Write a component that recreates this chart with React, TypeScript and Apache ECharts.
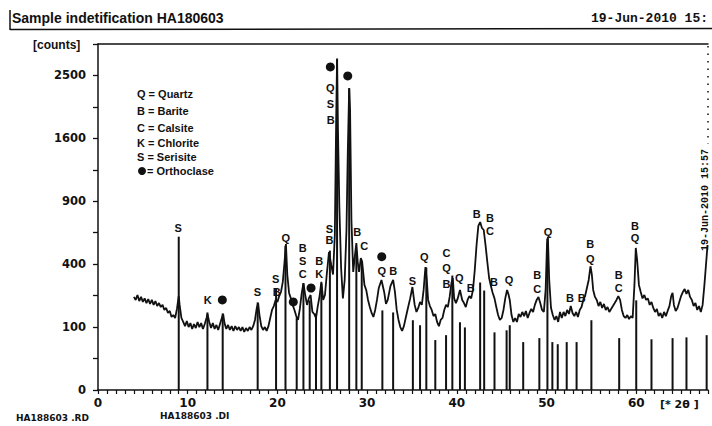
import React, { useEffect, useRef } from 'react';
import * as echarts from 'echarts';

// measured pattern: [2theta, counts]
const patternData: [number, number][] = [
  [4.0, 219], [4.2, 205], [4.4, 228], [4.6, 200], [4.8, 219], [5.0, 196], [5.2, 212], [5.4, 191], [5.6, 209], [5.8, 187],
  [6.0, 205], [6.2, 183], [6.4, 200], [6.6, 178], [6.8, 191], [7.0, 174], [7.2, 183], [7.4, 162], [7.6, 170], [7.8, 150],
  [8.0, 158], [8.2, 135], [8.4, 142], [8.6, 131], [8.8, 166], [9.0, 223], [9.1, 183], [9.3, 131], [9.5, 117], [9.7, 103],
  [9.9, 120], [10.1, 100], [10.3, 113], [10.5, 94], [10.7, 110], [10.9, 97], [11.1, 117], [11.3, 100], [11.5, 113], [11.7, 94],
  [11.9, 110], [12.1, 131], [12.2, 146], [12.4, 117], [12.6, 97], [12.8, 113], [13.0, 94], [13.2, 107], [13.4, 91], [13.6, 110],
  [13.8, 131], [13.95, 146], [14.1, 113], [14.3, 94], [14.5, 107], [14.7, 91], [14.9, 103], [15.1, 88], [15.3, 103], [15.5, 91],
  [15.7, 100], [15.9, 88], [16.1, 100], [16.3, 85], [16.5, 97], [16.7, 88], [16.9, 100], [17.1, 91], [17.3, 103], [17.5, 124],
  [17.7, 170], [17.85, 191], [18.0, 142], [18.2, 103], [18.4, 91], [18.6, 100], [18.8, 88], [19.0, 103], [19.2, 131], [19.4, 162],
  [19.6, 178], [19.8, 205], [20.0, 196], [20.2, 223], [20.4, 243], [20.6, 295], [20.8, 419], [20.95, 538], [21.1, 337], [21.3, 238],
  [21.5, 212], [21.7, 183], [21.9, 162], [22.1, 138], [22.3, 124], [22.5, 166], [22.7, 233], [22.9, 289], [23.1, 228], [23.3, 183],
  [23.5, 212], [23.7, 228], [23.9, 154], [24.1, 146], [24.3, 131], [24.5, 178], [24.7, 223], [24.9, 295], [25.1, 205], [25.3, 228],
  [25.5, 337], [25.75, 481], [26.0, 395], [26.2, 337], [26.4, 607], [26.55, 1842], [26.65, 2752], [26.75, 1709], [26.9, 865], [27.1, 376],
  [27.3, 212], [27.5, 306], [27.7, 647], [27.85, 1456], [28.0, 2305], [28.1, 1982], [28.25, 730], [28.45, 352], [28.65, 461], [28.8, 546],
  [28.95, 414], [29.1, 352], [29.3, 440], [29.45, 414], [29.7, 279], [29.9, 253], [30.1, 205], [30.3, 174], [30.5, 150], [30.7, 135],
  [30.9, 162], [31.1, 205], [31.3, 263], [31.6, 306], [31.9, 243], [32.1, 187], [32.3, 205], [32.6, 273], [32.9, 306], [33.1, 243],
  [33.3, 162], [33.5, 124], [33.7, 100], [33.9, 88], [34.1, 103], [34.3, 131], [34.5, 162], [34.8, 212], [35.05, 268], [35.3, 183],
  [35.5, 154], [35.7, 170], [35.9, 196], [36.1, 183], [36.3, 253], [36.5, 382], [36.65, 306], [36.8, 205], [37.0, 178], [37.2, 162],
  [37.4, 138], [37.6, 146], [37.8, 117], [38.0, 103], [38.2, 124], [38.4, 131], [38.6, 162], [38.8, 183], [39.0, 174], [39.2, 219],
  [39.4, 289], [39.55, 317], [39.7, 212], [39.9, 191], [40.1, 212], [40.35, 253], [40.6, 205], [40.8, 191], [41.0, 174], [41.2, 205],
  [41.4, 223], [41.6, 212], [41.8, 253], [42.0, 364], [42.2, 531], [42.4, 680], [42.6, 713], [42.8, 663], [43.0, 647], [43.2, 531],
  [43.4, 414], [43.6, 317], [43.8, 273], [44.0, 238], [44.2, 212], [44.4, 174], [44.6, 142], [44.8, 124], [45.0, 131], [45.2, 162],
  [45.4, 212], [45.6, 253], [45.75, 233], [45.9, 205], [46.1, 142], [46.3, 117], [46.5, 131], [46.7, 117], [46.9, 146], [47.1, 135],
  [47.3, 154], [47.5, 138], [47.7, 158], [47.9, 131], [48.1, 150], [48.3, 166], [48.5, 154], [48.7, 183], [48.9, 205], [49.1, 219],
  [49.3, 191], [49.5, 162], [49.7, 154], [49.9, 253], [50.05, 531], [50.15, 592], [50.3, 306], [50.5, 170], [50.7, 142], [50.9, 124],
  [51.1, 138], [51.3, 117], [51.5, 154], [51.7, 131], [51.9, 154], [52.1, 138], [52.3, 162], [52.5, 146], [52.7, 178], [52.9, 150],
  [53.1, 138], [53.3, 154], [53.5, 135], [53.7, 162], [53.9, 174], [54.1, 205], [54.3, 223], [54.5, 263], [54.7, 306], [54.9, 387],
  [55.05, 337], [55.2, 253], [55.4, 219], [55.6, 205], [55.8, 178], [56.0, 196], [56.2, 170], [56.4, 187], [56.6, 162], [56.8, 174],
  [57.0, 154], [57.2, 166], [57.4, 178], [57.6, 191], [57.8, 205], [58.0, 223], [58.2, 205], [58.4, 162], [58.6, 138], [58.8, 131],
  [59.0, 142], [59.2, 127], [59.4, 138], [59.6, 131], [59.8, 279], [59.95, 510], [60.1, 427], [60.3, 279], [60.5, 243], [60.7, 212],
  [60.9, 228], [61.1, 205], [61.3, 212], [61.5, 183], [61.7, 196], [61.9, 170], [62.1, 154], [62.3, 166], [62.5, 138], [62.7, 150],
  [62.9, 131], [63.1, 154], [63.3, 138], [63.5, 158], [63.7, 178], [63.9, 223], [64.05, 238], [64.2, 183], [64.4, 158], [64.6, 170],
  [64.8, 196], [65.0, 223], [65.2, 243], [65.4, 258], [65.6, 233], [65.8, 253], [66.0, 219], [66.2, 205], [66.4, 178], [66.6, 191],
  [66.8, 162], [67.0, 178], [67.2, 154], [67.4, 183], [67.6, 279], [67.8, 414], [67.95, 531],
];

// reference line list (DI file)
const stickPositions = [
  9.0, 12.2, 13.9, 17.8, 19.85, 20.9, 22.15, 22.9, 23.6, 24.3, 24.9, 25.85, 26.65, 28.0, 28.8, 29.4,
  31.7, 32.9, 35.1, 35.9, 36.6, 37.6, 38.8, 39.5, 40.35, 40.9, 42.6, 43.05, 44.2, 45.55, 45.9, 47.4,
  49.2, 50.1, 50.65, 51.25, 52.25, 53.35, 55.0, 58.1, 60.0, 61.7, 64.05, 65.6, 67.85,
];
const stickCounts = [
  594, 152, 148, 194, 260, 526, 133, 287, 203, 148, 287, 491, 2776, 2298, 491, 423,
  160, 152, 123, 106, 379, 63, 76, 331, 116, 99, 292, 250, 84, 90, 106, 58,
  68, 578, 58, 53, 58, 58, 123, 68, 203, 65, 68, 70, 76,
];

// phase labels: [2theta, counts, letter]
const peakLabels: [number, number, string][] = [
  [8.95, 663, 'S'], [12.23, 205, 'K'], [17.76, 243, 'S'], [19.81, 311, 'S'], [19.92, 243, 'B'],
  [20.93, 584, 'Q'], [22.82, 510, 'B'], [22.82, 421, 'S'], [22.82, 340, 'C'], [24.67, 421, 'B'],
  [24.67, 340, 'K'], [25.79, 655, 'S'], [25.79, 569, 'B'], [25.9, 2305, 'Q'], [25.9, 2067, 'S'],
  [25.95, 1843, 'B'], [28.91, 631, 'B'], [29.69, 524, 'C'], [31.63, 358, 'Q'], [32.92, 358, 'B'],
  [35.04, 302, 'S'], [36.38, 447, 'Q'], [38.85, 471, 'C'], [38.85, 379, 'Q'], [38.85, 284, 'B'],
  [40.28, 317, 'Q'], [41.55, 263, 'B'], [42.22, 779, 'B'], [43.7, 748, 'B'], [43.7, 635, 'C'],
  [44.15, 295, 'B'], [45.82, 306, 'Q'], [48.97, 334, 'B'], [48.97, 260, 'C'], [50.17, 627, 'Q'],
  [52.62, 214, 'B'], [53.92, 214, 'B'], [54.88, 535, 'B'], [54.88, 434, 'Q'], [58.05, 334, 'B'],
  [58.05, 263, 'C'], [59.87, 680, 'B'], [59.87, 580, 'Q'],
];

// orthoclase markers: [2theta, counts]
const orthoclaseMarks: [number, number][] = [
  [13.86, 205], [21.77, 196], [23.75, 263], [25.9, 2637], [27.84, 2492], [31.63, 449],
];

const yTickCounts = [0, 100, 400, 900, 1600, 2500];
const xTickLabels = [0, 10, 20, 30, 40, 50, 60];
const legendItems: [string, string][] = [
  ['Q', 'Quartz'], ['B', 'Barite'], ['C', 'Calsite'], ['K', 'Chlorite'], ['S', 'Serisite'], ['', 'Orthoclase'],
];

const INK = '#111';

export default function App() {
  const ref = useRef<HTMLDivElement>(null);
  useEffect(() => {
    document.body.style.margin = '0';
    if (!ref.current) return;
    const chart = echarts.init(ref.current, undefined, { renderer: 'svg' });
    const legendY = [94, 111, 128, 143, 157, 171];
    const graphic: any[] = [
      { type: 'line', shape: { x1: 10, y1: 10, x2: 10, y2: 30 }, style: { stroke: INK, lineWidth: 1.5 } },
      { type: 'line', shape: { x1: 10, y1: 29.5, x2: 712, y2: 28.5 }, style: { stroke: INK, lineWidth: 1.5 } },
      {
        type: 'text', x: 12, y: 18,
        style: { text: 'Sample indetification HA180603', fontFamily: "'Liberation Sans', sans-serif", fontWeight: 'bold', fontSize: 14, fill: INK, verticalAlign: 'middle' },
      },
      {
        type: 'text', x: 591, y: 18,
        style: { text: '19-Jun-2010 15:', fontFamily: "'Liberation Mono', monospace", fontWeight: 'bold', fontSize: 13, fill: INK, verticalAlign: 'middle' },
      },
      {
        type: 'text', x: 33, y: 45,
        style: { text: '[counts]', fontFamily: "'Liberation Sans', sans-serif", fontWeight: 'bold', fontSize: 12, fill: INK, verticalAlign: 'middle' },
      },
      {
        type: 'text', x: 660, y: 404,
        style: { text: '[* 2θ ]', fontFamily: "'DejaVu Sans', sans-serif", fontWeight: 'bold', fontSize: 11, fill: INK, verticalAlign: 'middle' },
      },
      {
        type: 'text', x: 16, y: 418,
        style: { text: 'HA188603 .RD', fontFamily: "'DejaVu Sans', sans-serif", fontWeight: 'bold', fontSize: 9, fill: INK, verticalAlign: 'middle' },
      },
      {
        type: 'text', x: 160, y: 416,
        style: { text: 'HA188603 .DI', fontFamily: "'DejaVu Sans', sans-serif", fontWeight: 'bold', fontSize: 9, fill: INK, verticalAlign: 'middle' },
      },
      {
        type: 'text', x: 705, y: 200, rotation: Math.PI / 2,
        style: { text: '19-Jun-2010 15:57', fontFamily: "'Liberation Mono', monospace", fontWeight: 'bold', fontSize: 10, fill: INK, align: 'center', verticalAlign: 'middle' },
      },
      { type: 'line', shape: { x1: 708, y1: 46, x2: 708, y2: 144 }, style: { stroke: INK, lineWidth: 1.5, lineDash: [1.5, 6] } },
      { type: 'circle', shape: { cx: 142, cy: 171, r: 4 }, style: { fill: INK } },
    ];
    legendItems.forEach(([k, name], i) => {
      graphic.push({
        type: 'text', x: k ? 137 : 147, y: legendY[i],
        style: {
          text: k ? `{k|${k}}{n| = ${name}}` : `{n|= ${name}}`,
          verticalAlign: 'middle',
          rich: {
            k: { fontFamily: "'Liberation Sans', sans-serif", fontSize: 11, fill: INK, fontWeight: 'bold' },
            n: { fontFamily: "'Liberation Sans', sans-serif", fontSize: 11, fill: INK, fontWeight: 'bold' },
          },
        },
      });
    });

    const tickFont = { fontFamily: "'DejaVu Sans', sans-serif", fontWeight: 'bold' as const, fontSize: 11.5, color: INK };

    chart.setOption({
      animation: false,
      backgroundColor: '#fff',
      color: [INK],
      grid: { left: 98, right: 4, top: 44, bottom: 36 },
      xAxis: [
        {
          type: 'value', min: 0, max: 68, interval: 1,
          axisLine: { show: true, lineStyle: { color: INK, width: 1.5 } },
          axisTick: { show: true, length: 4, lineStyle: { color: INK, width: 1.2 } },
          axisLabel: {
            ...tickFont, fontSize: 12, margin: 7,
            formatter: (v: number) => (xTickLabels.includes(v) ? String(v) : ''),
          },
          splitLine: { show: false },
        },
        {
          type: 'value', min: 0, max: 68, position: 'top',
          axisLine: { show: true, lineStyle: { color: INK, width: 1.5 } },
          axisTick: { show: false }, axisLabel: { show: false }, splitLine: { show: false },
        },
      ],
      yAxis: {
        type: 'value', min: 0, max: 55, interval: 5,
        axisLine: { show: true, lineStyle: { color: INK, width: 1.5 } },
        axisTick: { show: true, length: 5, lineStyle: { color: INK, width: 1.3 } },
        axisLabel: {
          ...tickFont, margin: 12,
          formatter: (v: number) => (yTickCounts.includes(Math.round(v * v)) ? String(Math.round(v * v)) : ''),
        },
        splitLine: { show: false },
      },
      series: [
        {
          type: 'bar', xAxisIndex: 0, barWidth: 2,
          data: stickPositions.map((x, i) => [x, Math.sqrt(stickCounts[i])]),
          itemStyle: { color: INK }, z: 2,
        },
        {
          type: 'line', xAxisIndex: 0, showSymbol: false, symbol: 'none',
          data: patternData.map(([x, c]) => [x, Math.sqrt(c)]),
          lineStyle: { color: INK, width: 1.8 }, z: 3,
        },
        {
          type: 'scatter', xAxisIndex: 0, symbolSize: 1,
          data: peakLabels.map(([x, c, t]) => ({ value: [x, Math.sqrt(c)], name: t })),
          itemStyle: { color: 'rgba(255,255,255,0)', opacity: 1 },
          label: {
            show: true, position: 'inside',
            formatter: (p: any) => `{t|${p.name}}`,
            rich: { t: { fontFamily: "'Liberation Sans', sans-serif", fontSize: 11, fontWeight: 'bold', color: INK } },
            color: INK, textBorderWidth: 0,
          },
          z: 4,
        },
        {
          type: 'scatter', xAxisIndex: 0, symbol: 'circle', symbolSize: 9,
          data: orthoclaseMarks.map(([x, c]) => [x, Math.sqrt(c)]),
          itemStyle: { color: INK, opacity: 1 }, z: 4,
        },
      ],
      graphic,
    });
    return () => chart.dispose();
  }, []);
  return <div ref={ref} style={{ width: 712, height: 426 }} />;
}
